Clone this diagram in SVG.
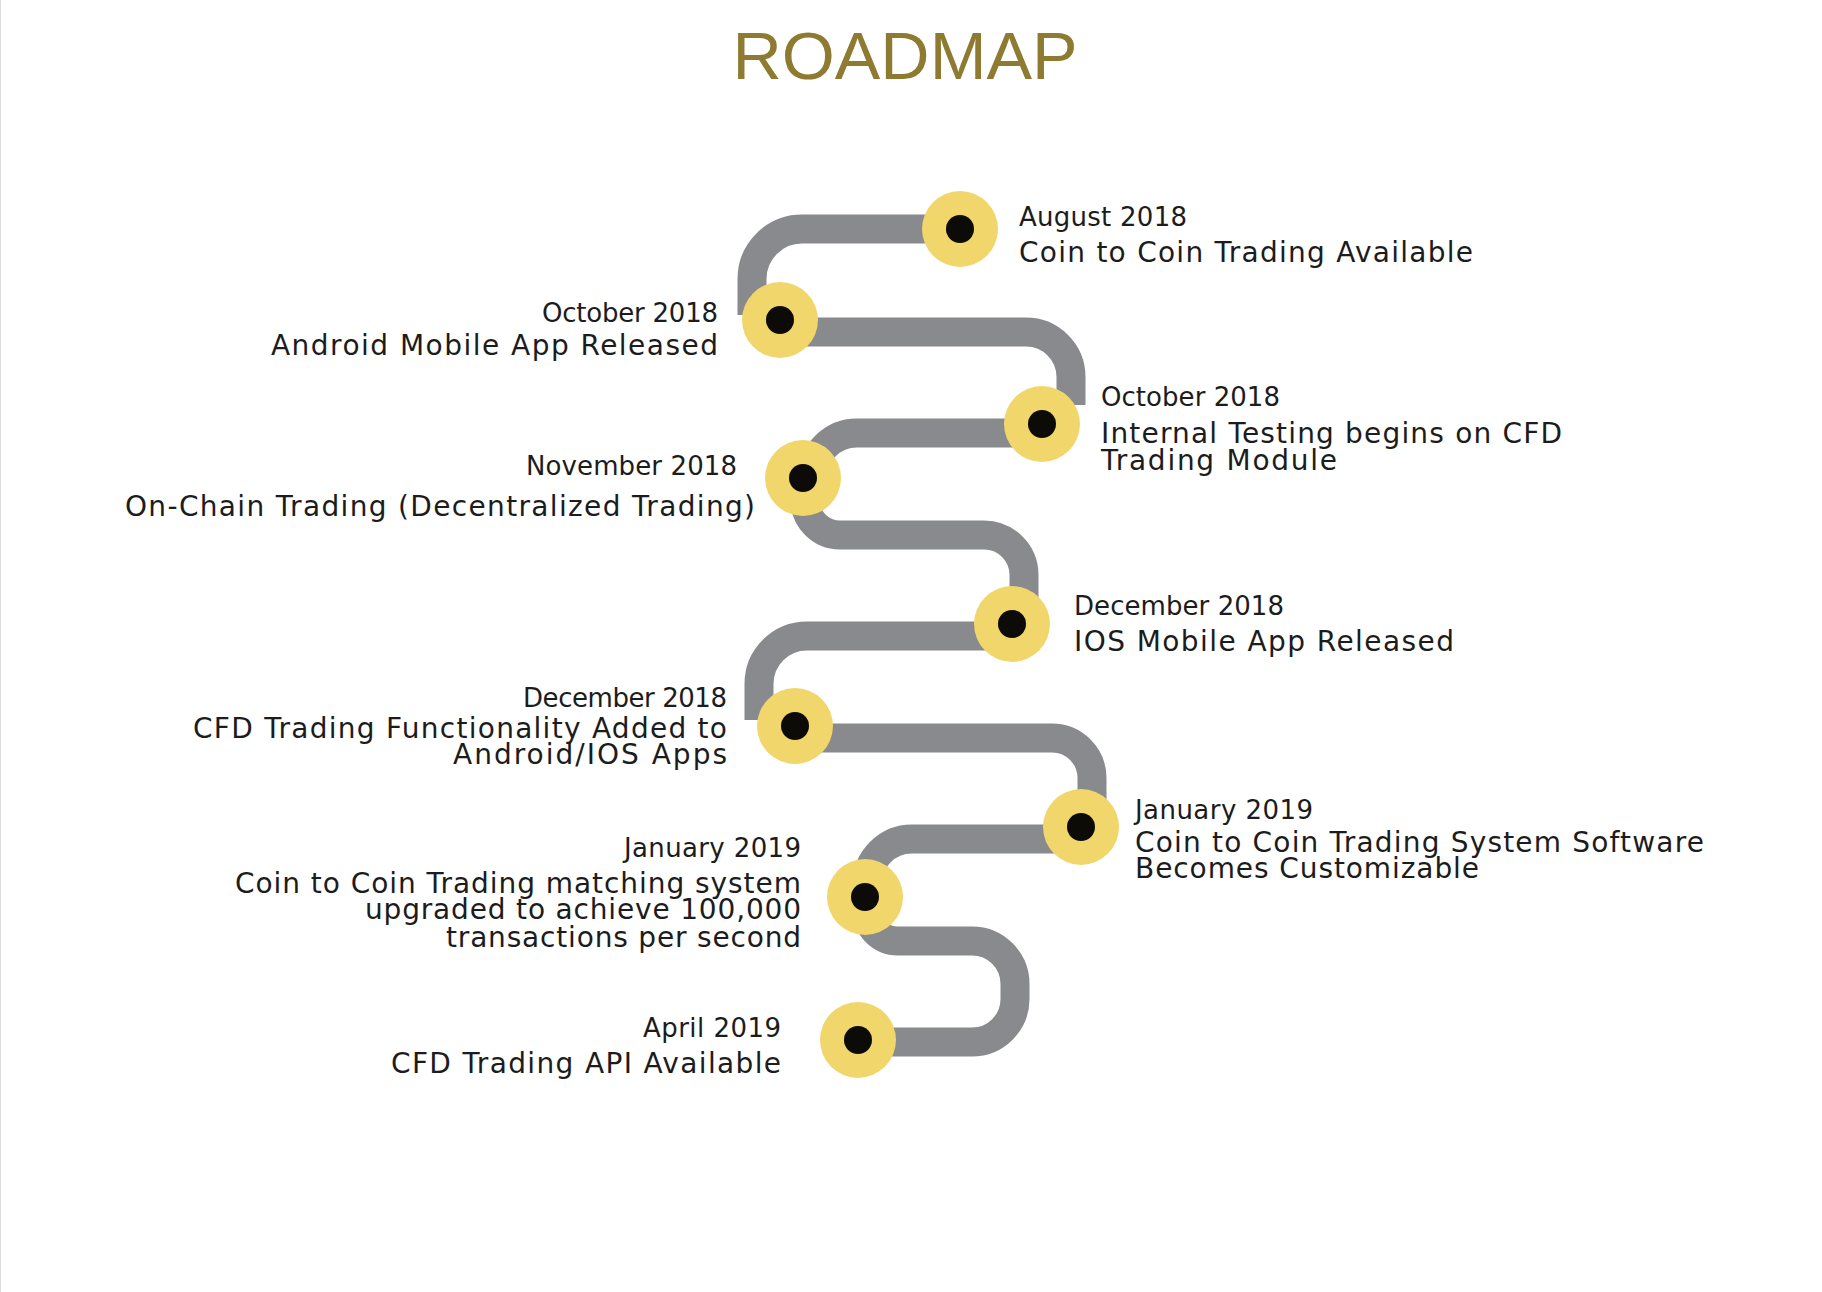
<svg xmlns="http://www.w3.org/2000/svg" width="1822" height="1292" viewBox="0 0 1822 1292">
<style>
.bg{fill:#ffffff}
.title{font-family:"Liberation Sans",Arial,sans-serif;font-size:66px;fill:#8e7a30}
.t{font-family:"DejaVu Sans","Open Sans",sans-serif;font-size:28px;fill:#1c1c1c}
.d{font-size:26px}
.e{text-anchor:end}
.road{fill:none;stroke:#898a8d;stroke-width:29;stroke-linecap:butt}
.ring{fill:#f1d66b}
.dot{fill:#0d0b07}
</style>
<rect class="bg" x="0" y="0" width="1822" height="1292"/>
<line x1="0.5" y1="0" x2="0.5" y2="1292" stroke="#dcdcdc" stroke-width="1"/>
<text class="title" x="905" y="79" text-anchor="middle" textLength="345" lengthAdjust="spacingAndGlyphs">ROADMAP</text>
<g id="connectors">
<path class="road" d="M 959 229 H 802 A 50 50 0 0 0 752 279 V 315"/>
<path class="road" d="M 780 332 H 1026 A 45 45 0 0 1 1071 377 V 405"/>
<path class="road" d="M 1042 433 H 857 A 45 45 0 0 0 812 478"/>
<path class="road" d="M 805 478 V 500 A 35 35 0 0 0 840 535 H 984 A 40 40 0 0 1 1024 575 V 605"/>
<path class="road" d="M 1012 636 H 807 A 48 48 0 0 0 759 684 V 720"/>
<path class="road" d="M 795 738 H 1052 A 40 40 0 0 1 1092 778 V 805"/>
<path class="road" d="M 1081 839 H 912 A 45 45 0 0 0 867 884 V 897"/>
<path class="road" d="M 867 897 V 910 A 31 31 0 0 0 898 941 H 972 A 43 43 0 0 1 1015 984 V 999 A 43 43 0 0 1 972 1042 H 858"/>
</g>
<g id="n1">
<circle class="ring" cx="960" cy="229" r="38"/><circle class="dot" cx="960" cy="229" r="14"/>
<text class="t d" x="1019" y="226" textLength="168">August 2018</text>
<text class="t" x="1019" y="262" textLength="454">Coin to Coin Trading Available</text>
</g>
<g id="n2">
<circle class="ring" cx="780" cy="320" r="38"/><circle class="dot" cx="780" cy="320" r="14"/>
<text class="t d e" x="718" y="322" textLength="176">October 2018</text>
<text class="t e" x="718" y="355" textLength="447">Android Mobile App Released</text>
</g>
<g id="n3">
<circle class="ring" cx="1042" cy="424" r="38"/><circle class="dot" cx="1042" cy="424" r="14"/>
<text class="t d" x="1101" y="406" textLength="179">October 2018</text>
<text class="t" x="1101" y="443" textLength="461">Internal Testing begins on CFD</text>
<text class="t" x="1101" y="470" textLength="236">Trading Module</text>
</g>
<g id="n4">
<circle class="ring" cx="803" cy="478" r="38"/><circle class="dot" cx="803" cy="478" r="14"/>
<text class="t d e" x="737" y="475" textLength="211">November 2018</text>
<text class="t e" x="755" y="516" textLength="630">On-Chain Trading (Decentralized Trading)</text>
</g>
<g id="n5">
<circle class="ring" cx="1012" cy="624" r="38"/><circle class="dot" cx="1012" cy="624" r="14"/>
<text class="t d" x="1074" y="615" textLength="210">December 2018</text>
<text class="t" x="1074" y="651" textLength="380">IOS Mobile App Released</text>
</g>
<g id="n6">
<circle class="ring" cx="795" cy="726" r="38"/><circle class="dot" cx="795" cy="726" r="14"/>
<text class="t d e" x="727" y="707" textLength="204">December 2018</text>
<text class="t e" x="727" y="738" textLength="534">CFD Trading Functionality Added to</text>
<text class="t e" x="727" y="764" textLength="274">Android/IOS Apps</text>
</g>
<g id="n7">
<circle class="ring" cx="1081" cy="827" r="38"/><circle class="dot" cx="1081" cy="827" r="14"/>
<text class="t d" x="1135" y="819" textLength="178">January 2019</text>
<text class="t" x="1135" y="852" textLength="569">Coin to Coin Trading System Software</text>
<text class="t" x="1135" y="878" textLength="344">Becomes Customizable</text>
</g>
<g id="n8">
<circle class="ring" cx="865" cy="897" r="38"/><circle class="dot" cx="865" cy="897" r="14"/>
<text class="t d e" x="801" y="857" textLength="177">January 2019</text>
<text class="t e" x="801" y="893" textLength="566">Coin to Coin Trading matching system</text>
<text class="t e" x="801" y="919" textLength="436">upgraded to achieve 100,000</text>
<text class="t e" x="801" y="947" textLength="355">transactions per second</text>
</g>
<g id="n9">
<circle class="ring" cx="858" cy="1040" r="38"/><circle class="dot" cx="858" cy="1040" r="14"/>
<text class="t d e" x="781" y="1037" textLength="138">April 2019</text>
<text class="t e" x="781" y="1073" textLength="390">CFD Trading API Available</text>
</g>
</svg>
